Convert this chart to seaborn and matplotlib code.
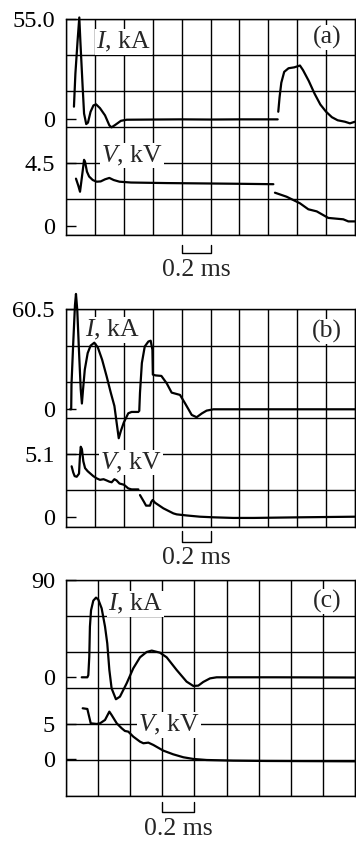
import numpy as np
import pandas as pd
import matplotlib
matplotlib.use("Agg")
import matplotlib.pyplot as plt
import seaborn as sns
from matplotlib.transforms import blended_transform_factory

sns.set_style("white")
plt.rcParams["font.family"] = ["Liberation Serif", "DejaVu Serif"]
plt.rcParams["mathtext.fontset"] = "custom"
plt.rcParams["mathtext.it"] = "Liberation Serif:italic"
plt.rcParams["mathtext.rm"] = "Liberation Serif"

# ---------------- data ----------------
panel_labels = ["(a)", "(b)", "(c)"]
i_top_values = [55.0, 60.5, 90.0]
i_top_labels = ["55.0", "60.5", "90"]
v_ref_values = [4.5, 5.1, 5.0]
v_ref_labels = ["4.5", "5.1", "5"]
n_divisions = [10, 10, 9]
div_ms = 0.2
bar_start_ms = [0.8, 0.8, 0.6]
bar_label = "0.2 ms"
i_label = "$I$, kA"
v_label = "$V$, kV"

# panel (a)  (nan separates trace segments)
a_t_I = [0.055, 0.065, 0.080, 0.092, 0.100, 0.115, 0.125, 0.140, 0.152, 0.170, 0.190, 0.208,
         0.235, 0.270, 0.300, 0.315, 0.340, 0.380, 0.420, 0.600, 0.800, 1.000, 1.200, 1.465,
         np.nan,
         1.469, 1.478, 1.490, 1.510, 1.540, 1.580, 1.619, 1.640, 1.680, 1.720, 1.760, 1.800,
         1.840, 1.880, 1.930, 1.965, 2.000]
a_I = [6.8, 25.0, 43.0, 56.0, 42.0, 18.0, 3.0, -2.8, -2.0, 4.0, 7.5, 8.1,
       6.0, 2.0, -3.5, -4.6, -3.3, -1.0, -0.4, -0.3, -0.2, -0.3, -0.2, -0.2,
       np.nan,
       4.0, 12.0, 20.0, 26.0, 28.0, 28.5, 29.5, 27.0, 21.0, 14.0, 8.0, 4.0,
       1.0, -0.7, -1.5, -2.4, -1.5]
a_t_V = [0.069, 0.085, 0.097, 0.110, 0.125, 0.132, 0.145, 0.160, 0.185, 0.212, 0.240, 0.270,
         0.300, 0.330, 0.370, 0.450, 0.700, 1.000, 1.200, 1.435,
         np.nan,
         1.446, 1.527, 1.619, 1.677, 1.735, 1.815, 1.919, 1.954, 2.000]
a_V = [3.4, 2.9, 2.46, 3.5, 4.75, 4.6, 3.9, 3.55, 3.3, 3.18, 3.2, 3.35,
       3.45, 3.3, 3.18, 3.12, 3.08, 3.05, 3.03, 3.0,
       np.nan,
       2.39, 2.1, 1.63, 1.2, 1.05, 0.58, 0.48, 0.33, 0.33]

# panel (b)
b_t_I = [0.028, 0.036, 0.038, 0.050, 0.062, 0.069, 0.078, 0.090, 0.102, 0.110, 0.118, 0.130,
         0.150, 0.170, 0.196, 0.220, 0.250, 0.281, 0.310, 0.335, 0.351, 0.365, 0.380, 0.400,
         0.431, 0.454, 0.501,
         np.nan,
         0.507, 0.512, 0.525, 0.545, 0.570, 0.586, 0.598, 0.601, 0.620, 0.660, 0.697, 0.731,
         0.789, 0.824, 0.870, 0.904, 0.940, 0.973, 1.020, 1.200, 1.500, 2.000]
b_I = [0.0, 0.0, 15.0, 40.0, 63.0, 69.8, 60.0, 35.0, 12.0, 3.5, 12.0, 24.0,
       34.0, 38.5, 40.3, 37.5, 30.0, 20.0, 10.0, 2.0, -8.5, -17.5, -13.0, -8.0,
       -2.4, -1.6, -1.6,
       np.nan,
       -1.0, 10.0, 28.0, 38.0, 41.0, 41.5, 36.0, 21.0, 20.5, 20.2, 15.7, 10.1,
       8.7, 3.6, -3.4, -4.8, -2.5, -0.8, 0.0, 0.0, 0.0, 0.0]
b_t_V = [0.039, 0.050, 0.060, 0.074, 0.090, 0.096, 0.102, 0.110, 0.120, 0.132, 0.150, 0.189,
         0.212, 0.235, 0.260, 0.281, 0.300, 0.316, 0.335, 0.350, 0.370, 0.401, 0.431, 0.454,
         0.501,
         np.nan,
         0.512, 0.540, 0.554, 0.581, 0.590, 0.600, 0.616, 0.674, 0.743, 0.766, 0.835, 0.927,
         1.020, 1.158, 1.300, 1.619, 2.000]
b_V = [4.1, 3.6, 3.3, 3.25, 3.5, 4.8, 5.69, 5.5, 4.5, 3.95, 3.7, 3.3,
       3.12, 3.0, 3.05, 2.95, 2.85, 2.8, 3.05, 2.95, 2.7, 2.6, 2.3, 2.22,
       2.22,
       np.nan,
       1.76, 1.2, 0.9, 0.9, 1.2, 1.36, 1.14, 0.68, 0.27, 0.19, 0.1, 0.0,
       -0.05, -0.1, -0.1, -0.05, 0.0]

# panel (c)
c_t_I = [0.098, 0.133, 0.139, 0.145, 0.149, 0.156, 0.170, 0.187, 0.201, 0.222, 0.243, 0.257,
         0.270, 0.284, 0.311, 0.336, 0.378, 0.419, 0.461, 0.502, 0.534, 0.585, 0.627, 0.689,
         0.751, 0.793, 0.824, 0.855, 0.897, 0.938, 1.300, 1.800]
c_I = [0.0, 0.0, 2.0, 19.0, 46.9, 62.0, 70.9, 73.7, 72.0, 63.8, 46.9, 31.4,
       6.8, -10.2, -20.3, -17.9, -5.5, 8.3, 18.5, 23.4, 24.7, 22.8, 18.5, 6.8,
       -4.0, -8.0, -7.7, -4.3, -1.0, 0.0, 0.0, -0.2]
c_t_V = [0.104, 0.133, 0.154, 0.191, 0.212, 0.243, 0.270, 0.284, 0.316, 0.347, 0.367, 0.388,
         0.419, 0.461, 0.482, 0.513, 0.544, 0.606, 0.668, 0.731, 0.793, 0.876, 1.042, 1.250,
         1.800]
c_V = [7.29, 7.19, 5.14, 5.05, 5.14, 5.62, 6.81, 6.33, 5.14, 4.43, 4.05, 3.95,
       3.24, 2.52, 2.29, 2.38, 2.05, 1.24, 0.71, 0.29, 0.05, -0.1, -0.19, -0.24,
       -0.29]

traces_I = [(a_t_I, a_I), (b_t_I, b_I), (c_t_I, c_I)]
traces_V = [(a_t_V, a_V), (b_t_V, b_V), (c_t_V, c_V)]

# ---------------- layout (pixels of the 356x842 canvas) ----------------
W, H = 356, 842
left_px, right_px = 66, 355
tops = [19.3, 309.3, 580.0]
bottoms = [235.0, 526.7, 796.0]
i0_px = [119.0, 409.3, 677.3]
vref_px = [163.3, 454.0, 724.3]
v0_px = [226.0, 516.7, 759.3]
ilab_px = [(96, 41.7), (85, 330.0), (108, 604.0)]
vlab_px = [(101, 155.5), (100, 462.5), (138, 725.0)]
plab_px = [(327, 37.5), (327, 331.7), (327, 601.7)]
bar_tick_px = [(245, 252.5), (531, 541.7), (802, 812.0)]
bar_text_px = [276.0, 564.0, 835.0]

FS = 17.5
FS_LABEL = 18.5
LW_GRID = 1.0
LW_TRACE = 1.6

fig = plt.figure(figsize=(W / 100, H / 100), dpi=100)


def to_df(t, v):
    t = np.asarray(t, float)
    v = np.asarray(v, float)
    seg = np.cumsum(np.isnan(t))
    df = pd.DataFrame({"t": t, "v": v, "seg": seg})
    return df.dropna()


for k in range(3):
    top, bot = tops[k], bottoms[k]
    hpx = bot - top
    rect = [left_px / W, (H - bot) / H, (right_px - left_px) / W, hpx / H]
    ax = fig.add_axes(rect)
    xmax = n_divisions[k] * div_ms
    ax.set_xlim(0, xmax)
    ax.set_ylim(0, 6)
    ax.set_xticks(np.arange(n_divisions[k] + 1) * div_ms)
    ax.set_yticks(np.arange(7))
    ax.grid(True, color="black", lw=LW_GRID)
    ax.tick_params(length=0, labelleft=False, labelbottom=False)
    for s in ax.spines.values():
        s.set_color("black")
        s.set_linewidth(LW_GRID)
        s.set_visible(True)

    def ax_xy(px, py):
        return (px - left_px) / (right_px - left_px), (bot - py) / hpx

    # current axis
    axI = ax.twinx()
    ppk = (i0_px[k] - top) / i_top_values[k]
    # voltage axis
    axV = ax.twinx()
    ppv = (v0_px[k] - vref_px[k]) / v_ref_values[k]

    dfI = to_df(*traces_I[k])
    dfV = to_df(*traces_V[k])
    sns.lineplot(data=dfI, x="t", y="v", units="seg", estimator=None, color="black",
                 lw=LW_TRACE, ax=axI, legend=False, clip_on=False)
    sns.lineplot(data=dfV, x="t", y="v", units="seg", estimator=None, color="black",
                 lw=LW_TRACE, ax=axV, legend=False, clip_on=False)
    axI.set_ylim(-(bot - i0_px[k]) / ppk, i_top_values[k])
    axV.set_ylim(-(bot - v0_px[k]) / ppv, v_ref_values[k] + (vref_px[k] - top) / ppv)
    ax.set_xlim(0, xmax)

    for a2, ticks, labels in [(axI, [0, i_top_values[k]], ["0", i_top_labels[k]]),
                              (axV, [0, v_ref_values[k]], ["0", v_ref_labels[k]])]:
        a2.yaxis.tick_left()
        a2.set_yticks(ticks)
        a2.set_yticklabels(labels)
        a2.tick_params(axis="y", direction="in", length=7, width=LW_GRID, pad=8,
                       labelsize=FS, colors="black")
        for s in a2.spines.values():
            s.set_visible(False)
        a2.grid(False)

    for a2 in (ax, axI, axV):
        a2.set_xlabel("")
        a2.set_ylabel("")

    box = dict(facecolor="white", edgecolor="none", pad=0.5)
    x, y = ax_xy(*ilab_px[k])
    ax.text(x, y, i_label, transform=ax.transAxes, ha="left", va="center",
            fontsize=FS_LABEL, bbox=box, zorder=5)
    x, y = ax_xy(*vlab_px[k])
    ax.text(x, y, v_label, transform=ax.transAxes, ha="left", va="center",
            fontsize=FS_LABEL, bbox=box, zorder=5)
    x, y = ax_xy(*plab_px[k])
    ax.text(x, y, panel_labels[k], transform=ax.transAxes, ha="center", va="center",
            fontsize=FS_LABEL, bbox=box, zorder=5)

    # scale bar
    tr = blended_transform_factory(ax.transData, ax.transAxes)
    y0 = ax_xy(0, bar_tick_px[k][0])[1]
    y1 = ax_xy(0, bar_tick_px[k][1])[1]
    xs = bar_start_ms[k]
    ax.plot([xs, xs, xs + div_ms, xs + div_ms], [y0, y1, y1, y0], color="black",
            lw=LW_GRID, transform=tr, clip_on=False)
    yb = ax_xy(0, bar_text_px[k])[1]
    ax.text(xs + div_ms / 2, yb, bar_label, transform=tr, ha="center", va="baseline",
            fontsize=FS_LABEL)

fig.savefig("out.png", dpi=100)
